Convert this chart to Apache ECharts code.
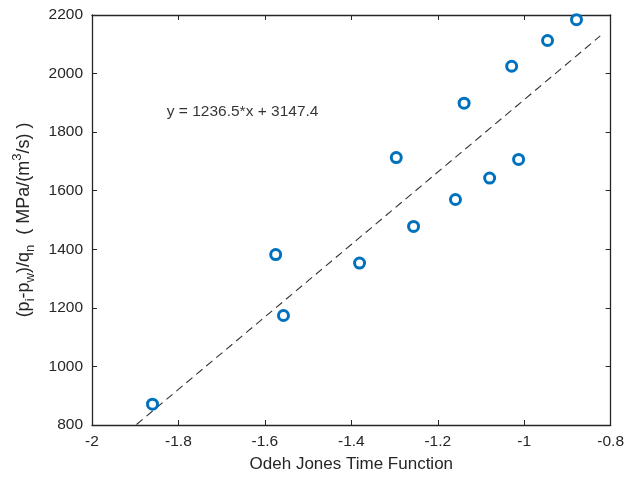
<!DOCTYPE html>
<html>
<head>
<meta charset="utf-8">
<script src="https://cdn.jsdelivr.net/npm/echarts@6/dist/echarts.min.js"></script>
<style>
html,body{margin:0;padding:0;background:#fff;}
#chart{width:627px;height:478px;}
</style>
</head>
<body>
<div id="chart"></div>
<script>
// Measured points: Odeh-Jones time function vs normalised pressure drop
var timeFn = [-1.860, -1.575, -1.557, -1.381, -1.296, -1.256, -1.159, -1.139, -1.080, -1.029, -1.013, -0.946, -0.879];
var pressureDrop = [871, 1382, 1174, 1353, 1713, 1478, 1570, 1899, 1643, 2025, 1707, 2113, 2184];

// Least-squares fit y = slope*x + intercept
var slope = 1236.5;
var intercept = 3147.4;
var fitRange = [-1.897, -0.824];
var fitLabel = 'y = 1236.5*x + 3147.4';
var fitLabelAt = [-1.827, 1871];

var xTicks = [-2, -1.8, -1.6, -1.4, -1.2, -1, -0.8];
var yTicks = [800, 1000, 1200, 1400, 1600, 1800, 2000, 2200];

var font = 'Liberation Sans, Arial, Helvetica, sans-serif';
var ink = '#262626';

var points = timeFn.map(function (x, i) { return [x, pressureDrop[i]]; });
var fitLine = fitRange.map(function (x) { return [x, slope * x + intercept]; });

function boxAxis(extra) {
  var base = {
    axisLine: { show: true, onZero: false, lineStyle: { color: ink, width: 1.3 } },
    axisTick: { show: true, inside: true, length: 5, lineStyle: { color: ink, width: 1 } },
    splitLine: { show: false }
  };
  return Object.assign(base, extra);
}

var chart = echarts.init(document.getElementById('chart'), null, { renderer: 'canvas' });
chart.setOption({
  backgroundColor: '#fff',
  animation: false,
  grid: { left: 92, right: 14, top: 15, bottom: 52, containLabel: false },
  xAxis: [
    boxAxis({
      type: 'value', min: xTicks[0], max: xTicks[xTicks.length - 1], interval: 0.2,
      position: 'bottom',
      name: 'Odeh Jones Time Function', nameLocation: 'middle', nameGap: 31,
      nameTextStyle: { fontFamily: font, fontSize: 17, color: ink },
      axisLabel: { fontFamily: font, fontSize: 15.5, color: ink, margin: 9,
        formatter: function (v) { return String(Math.round(v * 10) / 10); } }
    }),
    boxAxis({
      type: 'value', min: xTicks[0], max: xTicks[xTicks.length - 1], interval: 0.2,
      position: 'top', axisLabel: { show: false }
    })
  ],
  yAxis: [
    boxAxis({
      type: 'value', min: yTicks[0], max: yTicks[yTicks.length - 1], interval: 200,
      position: 'left',
      name: '{m|(p}{s|i}{m|-p}{s|w}{m|)/q}{s|n}{m|  ( MPa/(m}{p|3}{m|/s) )}',
      nameLocation: 'middle', nameGap: 55, nameRotate: 90,
      nameTextStyle: {
        fontFamily: font, fontSize: 18, color: ink,
        rich: {
          m: { fontFamily: font, fontSize: 18, color: ink, lineHeight: 26, verticalAlign: 'middle' },
          s: { fontFamily: font, fontSize: 13, color: ink, lineHeight: 26, verticalAlign: 'bottom' },
          p: { fontFamily: font, fontSize: 13, color: ink, lineHeight: 26, verticalAlign: 'top' }
        }
      },
      axisLabel: { fontFamily: font, fontSize: 15.5, color: ink, margin: 9,
        formatter: function (v) { return String(v); } }
    }),
    boxAxis({
      type: 'value', min: yTicks[0], max: yTicks[yTicks.length - 1], interval: 200,
      position: 'right', axisLabel: { show: false }
    })
  ],
  series: [
    {
      type: 'line', data: fitLine, symbol: 'none', silent: true,
      lineStyle: { color: '#333333', width: 1.1, type: [8, 5] },
      clip: true, z: 2
    },
    {
      type: 'scatter', data: points, symbol: 'circle', symbolSize: 10,
      itemStyle: { color: '#ffffff', borderColor: '#0072BD', borderWidth: 3, opacity: 1 },
      z: 3
    },
    {
      type: 'scatter', data: [fitLabelAt], symbolSize: 0, silent: true,
      label: { show: true, position: 'right', distance: 0, formatter: fitLabel,
        fontFamily: font, fontSize: 15.5, color: '#000' },
      z: 4
    }
  ]
});
</script>
</body>
</html>
